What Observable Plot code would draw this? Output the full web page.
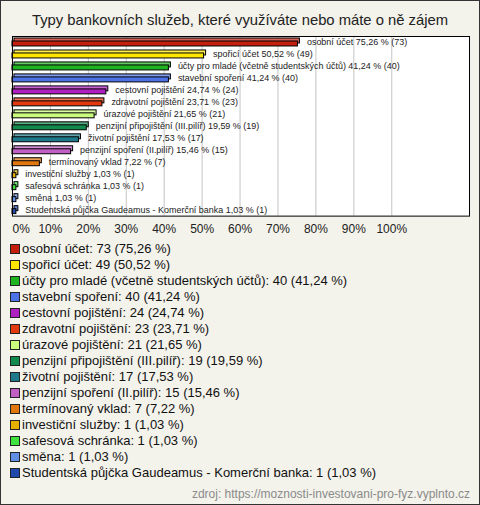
<!DOCTYPE html>
<html>
<head>
<meta charset="utf-8">
<script src="https://cdn.jsdelivr.net/npm/d3@7"></script>
<script src="https://cdn.jsdelivr.net/npm/@observablehq/plot@0.6"></script>
<style>
  html, body { margin: 0; padding: 0; background: #fff; }
  #wrap { position: relative; width: 478px; height: 503px; border: 1px solid #333; background: #f3f2eb; font-family: "Liberation Sans", Arial, sans-serif; overflow: hidden; }
  #title { height: 33px; line-height: 38px; text-align: center; font-size: 14.8px; color: #222; white-space: nowrap; }
  #chart { position: absolute; left: -1px; top: 33px; }
  #legend { position: absolute; left: 9px; top: 240px; font-size: 13px; color: #111; }
  .item { height: 16px; line-height: 16px; white-space: nowrap; display: flex; align-items: center; }
  .sw { width: 8px; height: 8px; border: 1px solid #222; margin-right: 2px; flex: none; }
  #source { position: absolute; right: 9px; top: 485px; font-size: 12px; color: #8a8a8a; line-height: 16px; }
</style>
</head>
<body>
<div id="wrap">
  <div id="title">Typy bankovních služeb, které využíváte nebo máte o ně zájem</div>
  <div id="chart"></div>
  <div id="legend"></div>
  <div id="source">zdroj: https://moznosti-investovani-pro-fyz.vyplnto.cz</div>
</div>
<script>
const categories = [
  "osobní účet",
  "spořicí účet",
  "účty pro mladé (včetně studentských účtů)",
  "stavební spoření",
  "cestovní pojištění",
  "zdravotní pojištění",
  "úrazové pojištění",
  "penzijní připojištění (III.pilíř)",
  "životní pojištění",
  "penzijní spoření (II.pilíř)",
  "termínovaný vklad",
  "investiční služby",
  "safesová schránka",
  "směna",
  "Studentská půjčka Gaudeamus - Komerční banka"
];
const counts = [73, 49, 40, 40, 24, 23, 21, 19, 17, 15, 7, 1, 1, 1, 1];
const percents = [75.26, 50.52, 41.24, 41.24, 24.74, 23.71, 21.65, 19.59, 17.53, 15.46, 7.22, 1.03, 1.03, 1.03, 1.03];
const colors = ["#c41e0c", "#ffe600", "#1fb41f", "#4d72e6", "#b01fc2", "#e23a0e", "#c9fb7d", "#128a4e", "#1e7a8a", "#c05fc4", "#e0780f", "#e6b000", "#3fe23f", "#5f8ee2", "#2149ad"];
const xTicks = [0, 10, 20, 30, 40, 50, 60, 70, 80, 90, 100];

const fmt = v => v.toFixed(2).replace(".", ",");
const data = categories.map((c, i) => ({
  name: c, count: counts[i], pct: percents[i], color: colors[i],
  light: d3.interpolateRgb(colors[i], "#ffffff")(0.3)
}));

const font = "Liberation Sans, Arial, sans-serif";
const chart = Plot.plot({
  width: 480,
  height: 207,
  marginTop: 2,
  marginBottom: 25,
  marginLeft: 12,
  marginRight: 10,
  style: { background: "transparent", fontFamily: font, overflow: "visible" },
  x: { domain: [0, 120.5], axis: null },
  y: { domain: categories, axis: null, padding: 0 },
  color: { type: "identity" },
  marks: [
    Plot.frame({ fill: "#ffffff" }),
    Plot.ruleX(xTicks.slice(1), { stroke: "#c4c4c4", strokeWidth: 1 }),
    Plot.barX(data, { x: "pct", y: "name", fill: "light", stroke: "#000", strokeWidth: 1, insetTop: 4, insetBottom: 3, dx: 2, dy: -2 }),
    Plot.barX(data, { x: "pct", y: "name", fill: "color", stroke: "#000", strokeWidth: 1, insetTop: 5, insetBottom: 2 }),
    Plot.text(data, { x: "pct", y: "name", text: d => `${d.name} ${fmt(d.pct)} % (${d.count})`, textAnchor: "start", dx: 9, dy: 0, fontSize: 9, fill: "#222" }),
    Plot.frame({ stroke: "#000", strokeWidth: 1 }),
    Plot.text(xTicks.slice(1), { x: d => d, frameAnchor: "bottom", dy: 13, lineAnchor: "middle", text: d => d + "%", fontSize: 12, fill: "#222" }),
    Plot.text([0], { x: d => d, frameAnchor: "bottom", dy: 13, lineAnchor: "middle", textAnchor: "start", dx: 0, text: d => d + "%", fontSize: 12, fill: "#222" })
  ]
});
document.getElementById("chart").appendChild(chart);

const legend = d3.select("#legend");
data.forEach(d => {
  const row = legend.append("div").attr("class", "item");
  row.append("div").attr("class", "sw").style("background", d.color);
  row.append("span").text(`${d.name}: ${d.count} (${fmt(d.pct)} %)`);
});
</script>
</body>
</html>
